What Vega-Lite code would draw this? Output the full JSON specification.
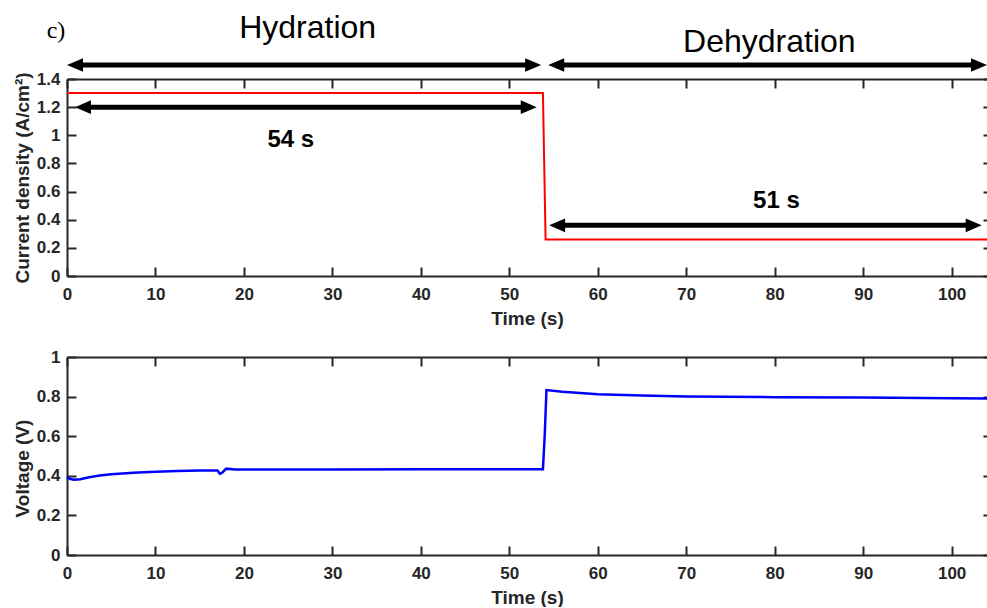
{
  "$schema": "https://vega.github.io/schema/vega-lite/v6.json",
  "padding": {"left": 13, "top": 12, "right": 0, "bottom": 0},
  "background": "white",
  "spacing": 81,
  "bounds": "flush",
  "config": {
    "view": {"stroke": null},
    "font": "Liberation Sans",
    "axis": {
      "grid": false,
      "domainColor": "#262626",
      "domainWidth": 2,
      "tickColor": "#262626",
      "tickWidth": 2,
      "tickSize": -9,
      "labelColor": "#262626",
      "labelFont": "Liberation Sans",
      "labelFontWeight": "bold",
      "labelFontSize": 17,
      "labelFlush": false,
      "labelOverlap": false,
      "titleColor": "#262626",
      "titleFont": "Liberation Sans",
      "titleFontWeight": "bold",
      "titleFontSize": 19
    },
    "axisX": {"labelPadding": 19, "titlePadding": 7},
    "axisY": {"labelPadding": 16}
  },
  "datasets": {
    "current": [
      {"t": 0, "j": 1.3},
      {"t": 53.8, "j": 1.3},
      {"t": 54.1, "j": 0.26},
      {"t": 104, "j": 0.26}
    ],
    "voltage": [
      {"t": 0, "v": 0.395},
      {"t": 0.3, "v": 0.385},
      {"t": 0.8, "v": 0.38},
      {"t": 1.5, "v": 0.383},
      {"t": 2.5, "v": 0.393},
      {"t": 3.7, "v": 0.402},
      {"t": 5, "v": 0.408},
      {"t": 7.5, "v": 0.415},
      {"t": 10, "v": 0.42},
      {"t": 12.5, "v": 0.424},
      {"t": 15, "v": 0.427},
      {"t": 17, "v": 0.427},
      {"t": 17.3, "v": 0.41},
      {"t": 17.6, "v": 0.418},
      {"t": 18, "v": 0.436},
      {"t": 19, "v": 0.432},
      {"t": 25, "v": 0.432},
      {"t": 30, "v": 0.432},
      {"t": 40, "v": 0.433},
      {"t": 50, "v": 0.433},
      {"t": 53.8, "v": 0.433},
      {"t": 54.0, "v": 0.6},
      {"t": 54.2, "v": 0.833},
      {"t": 56, "v": 0.825},
      {"t": 60, "v": 0.812},
      {"t": 65, "v": 0.805},
      {"t": 70, "v": 0.8},
      {"t": 80, "v": 0.797},
      {"t": 90, "v": 0.795},
      {"t": 100, "v": 0.792},
      {"t": 104, "v": 0.791}
    ],
    "arrows": [
      {"x1": 0, "x2": 53.6, "y": 1.5},
      {"x1": 54.4, "x2": 104, "y": 1.5},
      {"x1": 0.9, "x2": 53.1, "y": 1.2},
      {"x1": 54.5, "x2": 103.4, "y": 0.36}
    ],
    "bigLabels": [
      {"x": 27.2, "y": 1.76, "label": "Hydration"},
      {"x": 79.4, "y": 1.66, "label": "Dehydration"}
    ],
    "durations": [
      {"x": 25.3, "y": 0.97, "label": "54 s"},
      {"x": 80.2, "y": 0.53, "label": "51 s"}
    ],
    "panelLabel": [
      {"x": -1.24, "y": 1.74, "label": "c)"}
    ]
  },
  "vconcat": [
    {
      "width": 920,
      "height": 197,
      "resolve": {"axis": {"x": "independent", "y": "independent"}},
      "layer": [
        {
          "data": {"name": "current"},
          "mark": {"type": "line", "color": "#ff0000", "strokeWidth": 2},
          "encoding": {
            "x": {"field": "t", "type": "quantitative", "scale": {"domain": [0, 104], "nice": false, "zero": false},
                  "axis": {"orient": "bottom", "title": "Time (s)", "values": [0, 10, 20, 30, 40, 50, 60, 70, 80, 90, 100]}},
            "y": {"field": "j", "type": "quantitative", "scale": {"domain": [0, 1.4], "nice": false},
                  "axis": {"orient": "left", "title": "Current density (A/cm²)", "values": [0, 0.2, 0.4, 0.6, 0.8, 1, 1.2, 1.4], "format": "~g",
                           "titleX": -44.5, "titleY": 98.5, "titleBaseline": "middle", "titleAngle": -90}}
          }
        },
        {
          "data": {"name": "arrows"},
          "mark": {"type": "rule", "color": "black", "strokeWidth": 5, "xOffset": 8, "x2Offset": -8},
          "encoding": {
            "x": {"field": "x1", "type": "quantitative", "scale": {"domain": [0, 104], "nice": false, "zero": false},
                  "axis": {"orient": "top", "labels": false, "title": null, "values": [0, 10, 20, 30, 40, 50, 60, 70, 80, 90, 100]}},
            "x2": {"field": "x2"},
            "y": {"field": "y", "type": "quantitative", "scale": {"domain": [0, 1.4], "nice": false},
                  "axis": {"orient": "right", "labels": false, "title": null, "domain": false, "tickSize": -4, "values": [0, 0.2, 0.4, 0.6, 0.8, 1, 1.2, 1.4]}}
          }
        },
        {
          "data": {"name": "arrows"},
          "mark": {"type": "point", "shape": "M0,0L2,-0.85L2,0.85Z", "filled": true, "size": 256, "color": "black", "opacity": 1, "strokeWidth": 0},
          "encoding": {
            "x": {"field": "x1", "type": "quantitative", "scale": {"domain": [0, 104], "nice": false, "zero": false}, "axis": null},
            "y": {"field": "y", "type": "quantitative", "scale": {"domain": [0, 1.4], "nice": false}, "axis": null}
          }
        },
        {
          "data": {"name": "arrows"},
          "mark": {"type": "point", "shape": "M0,0L-2,-0.85L-2,0.85Z", "filled": true, "size": 256, "color": "black", "opacity": 1, "strokeWidth": 0},
          "encoding": {
            "x": {"field": "x2", "type": "quantitative", "scale": {"domain": [0, 104], "nice": false, "zero": false}, "axis": null},
            "y": {"field": "y", "type": "quantitative", "scale": {"domain": [0, 1.4], "nice": false}, "axis": null}
          }
        },
        {
          "data": {"name": "bigLabels"},
          "mark": {"type": "text", "font": "Liberation Sans", "fontSize": 32, "color": "black", "align": "center", "baseline": "middle"},
          "encoding": {
            "x": {"field": "x", "type": "quantitative", "scale": {"domain": [0, 104], "nice": false, "zero": false}, "axis": null},
            "y": {"field": "y", "type": "quantitative", "scale": {"domain": [0, 1.4], "nice": false}, "axis": null},
            "text": {"field": "label"}
          }
        },
        {
          "data": {"name": "durations"},
          "mark": {"type": "text", "font": "Liberation Sans", "fontSize": 24, "fontWeight": "bold", "color": "black", "align": "center", "baseline": "middle"},
          "encoding": {
            "x": {"field": "x", "type": "quantitative", "scale": {"domain": [0, 104], "nice": false, "zero": false}, "axis": null},
            "y": {"field": "y", "type": "quantitative", "scale": {"domain": [0, 1.4], "nice": false}, "axis": null},
            "text": {"field": "label"}
          }
        },
        {
          "data": {"name": "panelLabel"},
          "mark": {"type": "text", "font": "Liberation Serif", "fontSize": 24, "color": "black", "align": "center", "baseline": "middle"},
          "encoding": {
            "x": {"field": "x", "type": "quantitative", "scale": {"domain": [0, 104], "nice": false, "zero": false}, "axis": null},
            "y": {"field": "y", "type": "quantitative", "scale": {"domain": [0, 1.4], "nice": false}, "axis": null},
            "text": {"field": "label"}
          }
        }
      ]
    },
    {
      "width": 920,
      "height": 198,
      "resolve": {"axis": {"x": "independent", "y": "independent"}},
      "layer": [
        {
          "data": {"name": "voltage"},
          "mark": {"type": "line", "color": "#0000ff", "strokeWidth": 2.5},
          "encoding": {
            "x": {"field": "t", "type": "quantitative", "scale": {"domain": [0, 104], "nice": false, "zero": false},
                  "axis": {"orient": "bottom", "title": "Time (s)", "values": [0, 10, 20, 30, 40, 50, 60, 70, 80, 90, 100]}},
            "y": {"field": "v", "type": "quantitative", "scale": {"domain": [0, 1], "nice": false},
                  "axis": {"orient": "left", "title": "Voltage (V)", "values": [0, 0.2, 0.4, 0.6, 0.8, 1], "format": "~g",
                           "titleX": -44.5, "titleY": 111, "titleBaseline": "middle", "titleAngle": -90}}
          }
        },
        {
          "data": {"name": "voltage"},
          "mark": {"type": "line", "opacity": 0, "strokeWidth": 0},
          "encoding": {
            "x": {"field": "t", "type": "quantitative", "scale": {"domain": [0, 104], "nice": false, "zero": false},
                  "axis": {"orient": "top", "labels": false, "title": null, "values": [0, 10, 20, 30, 40, 50, 60, 70, 80, 90, 100]}},
            "y": {"field": "v", "type": "quantitative", "scale": {"domain": [0, 1], "nice": false},
                  "axis": {"orient": "right", "labels": false, "title": null, "domain": false, "tickSize": -4, "values": [0, 0.2, 0.4, 0.6, 0.8, 1]}}
          }
        }
      ]
    }
  ]
}
